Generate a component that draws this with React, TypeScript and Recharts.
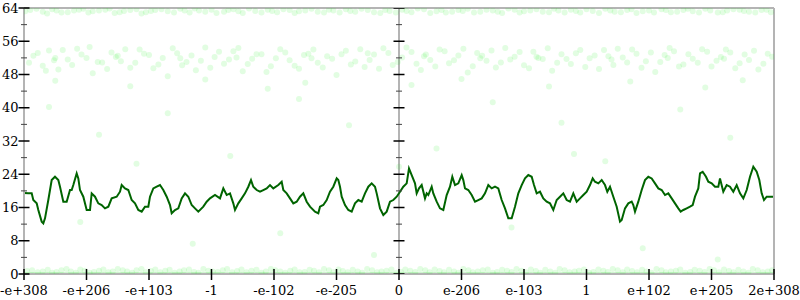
import React from 'react';
import { ComposedChart, Line, Scatter, XAxis, YAxis, ReferenceLine } from 'recharts';

const xTickValues = [0, 1, 2, 3, 4, 5, 6, 7, 8, 9, 10, 11, 12];
const xTickLabels = ['-e+308', '-e+206', '-e+103', '-1', '-e-102', '-e-205', '0', 'e-206', 'e-103', '1', 'e+102', 'e+205', '2e+308'];
const yTickValues = [0, 4, 8, 12, 16, 20, 24, 28, 32, 36, 40, 44, 48, 52, 56, 60, 64];
const midAxisX = 6;

const lineX = [0, 0.069, 0.123, 0.149, 0.203, 0.229, 0.283, 0.309, 0.336, 0.389, 0.443, 0.496, 0.549, 0.576, 0.629, 0.683, 0.736, 0.763, 0.789, 0.843, 0.869, 0.896, 0.949, 1.003, 1.056, 1.083, 1.136, 1.189, 1.243, 1.296, 1.349, 1.403, 1.483, 1.536, 1.563, 1.616, 1.669, 1.723, 1.776, 1.829, 1.883, 1.936, 1.989, 2.016, 2.069, 2.123, 2.176, 2.229, 2.283, 2.336, 2.363, 2.416, 2.469, 2.523, 2.576, 2.629, 2.683, 2.736, 2.789, 2.869, 2.923, 2.976, 3.056, 3.136, 3.189, 3.243, 3.296, 3.349, 3.376, 3.429, 3.483, 3.536, 3.589, 3.632, 3.669, 3.723, 3.776, 3.829, 3.883, 3.936, 3.989, 4.069, 4.123, 4.149, 4.203, 4.256, 4.309, 4.363, 4.416, 4.469, 4.523, 4.576, 4.656, 4.709, 4.736, 4.789, 4.843, 4.896, 4.949, 5.003, 5.029, 5.056, 5.083, 5.136, 5.189, 5.243, 5.296, 5.349, 5.403, 5.456, 5.509, 5.563, 5.616, 5.643, 5.696, 5.749, 5.803, 5.856, 5.909, 5.963, 6.016, 6.069, 6.123, 6.16, 6.203, 6.256, 6.283, 6.32, 6.363, 6.416, 6.443, 6.469, 6.523, 6.549, 6.603, 6.656, 6.709, 6.763, 6.816, 6.853, 6.896, 6.949, 7.003, 7.029, 7.056, 7.109, 7.163, 7.216, 7.269, 7.323, 7.376, 7.429, 7.483, 7.536, 7.589, 7.643, 7.696, 7.749, 7.803, 7.856, 7.909, 7.963, 8.016, 8.069, 8.123, 8.16, 8.203, 8.256, 8.309, 8.363, 8.416, 8.469, 8.523, 8.576, 8.629, 8.683, 8.736, 8.789, 8.843, 8.896, 8.949, 9.003, 9.056, 9.099, 9.136, 9.189, 9.243, 9.296, 9.333, 9.376, 9.429, 9.483, 9.536, 9.563, 9.616, 9.669, 9.723, 9.749, 9.776, 9.829, 9.883, 9.936, 9.989, 10.043, 10.096, 10.149, 10.203, 10.256, 10.309, 10.363, 10.416, 10.469, 10.507, 10.549, 10.603, 10.656, 10.699, 10.736, 10.789, 10.816, 10.859, 10.912, 10.949, 11.003, 11.056, 11.109, 11.136, 11.189, 11.243, 11.296, 11.349, 11.403, 11.456, 11.509, 11.563, 11.616, 11.669, 11.723, 11.765, 11.803, 11.84, 11.883, 11.936, 12];
const lineY = [19.5, 19.4, 19.4, 17.8, 17.0, 15.4, 12.6, 12.2, 13.4, 17.8, 22.6, 23.4, 22.6, 21.0, 17.4, 17.4, 20.2, 20.2, 21.4, 24.2, 23.0, 20.2, 18.6, 15.4, 15.4, 19.4, 18.6, 17.0, 16.6, 15.8, 16.2, 18.2, 18.6, 19.8, 21.4, 20.6, 20.2, 17.8, 17.0, 15.4, 15.0, 16.2, 16.2, 18.6, 20.6, 21.0, 21.4, 20.2, 18.6, 16.6, 14.6, 15.4, 15.8, 18.2, 19.4, 18.6, 16.6, 15.8, 15.0, 16.2, 17.4, 18.2, 19.0, 18.2, 20.6, 19.0, 19.4, 17.0, 15.4, 17.0, 18.2, 19.4, 21.0, 22.6, 21.0, 20.2, 19.8, 20.2, 20.6, 21.4, 20.6, 21.4, 22.2, 20.2, 19.4, 18.2, 17.0, 17.4, 18.6, 19.4, 17.4, 16.2, 15.0, 14.6, 16.2, 16.6, 17.8, 19.8, 21.0, 23.0, 22.6, 21.0, 18.6, 16.6, 15.4, 15.0, 17.0, 17.8, 17.4, 19.4, 21.0, 21.8, 21.0, 19.4, 15.8, 14.2, 15.0, 17.4, 17.8, 18.6, 19.8, 21.0, 21.8, 25.4, 23.8, 21.8, 19.4, 20.6, 21.4, 18.2, 19.4, 19.0, 21.0, 19.4, 17.4, 15.8, 15.4, 19.0, 21.0, 23.4, 21.4, 21.8, 23.8, 22.6, 20.6, 20.2, 19.0, 17.4, 17.8, 18.2, 19.4, 21.4, 20.6, 21.0, 20.6, 17.8, 15.8, 13.4, 13.4, 16.2, 19.4, 21.4, 23.0, 23.8, 23.4, 21.4, 19.4, 19.8, 18.2, 17.4, 17.0, 15.4, 17.8, 18.6, 19.4, 17.8, 17.4, 19.4, 17.4, 18.2, 19.0, 19.8, 21.4, 23.0, 22.2, 21.8, 22.6, 21.4, 19.8, 21.0, 18.6, 16.2, 12.6, 13.0, 15.8, 17.0, 17.4, 16.6, 15.0, 17.4, 20.2, 22.6, 23.4, 23.0, 21.8, 20.6, 20.2, 19.0, 19.4, 18.2, 17.0, 15.8, 15.0, 15.4, 15.8, 16.2, 16.6, 18.6, 20.6, 24.2, 24.6, 23.4, 22.2, 21.8, 21.0, 21.0, 23.0, 19.8, 21.4, 21.0, 19.8, 21.4, 19.4, 18.2, 20.2, 23.4, 25.8, 24.6, 22.6, 19.4, 17.8, 18.6, 18.6, 18.6];

const floorX = [0, 12];
const floorY = [0, 0];

const topBand: number[][] = [[0.1,63.5],[0.3,63.1],[0.45,63.7],[0.6,62.9],[0.8,63.4],[0.95,63.8],[1.1,63.2],[1.3,63.6],[1.45,62.8],[1.6,63.3],[1.8,63.7],[1.95,63.0],[2.1,63.5],[2.3,63.2],[2.5,63.8],[2.65,62.9],[2.8,63.4],[3.0,63.6],[3.2,63.1],[3.35,63.7],[3.5,62.8],[3.7,63.3],[3.9,63.6],[4.05,63.0],[4.25,63.5],[4.4,63.2],[4.6,63.8],[4.8,62.9],[4.95,63.4],[5.15,63.7],[5.3,63.1],[5.5,63.5],[5.7,62.8],[5.85,63.3],[6.05,63.6],[6.2,63.0],[6.4,63.7],[6.6,63.2],[6.75,62.9],[6.95,63.5],[7.1,63.8],[7.3,63.1],[7.5,63.4],[7.65,62.8],[7.85,63.6],[8.0,63.2],[8.2,63.7],[8.4,63.0],[8.55,63.4],[8.75,63.6],[8.9,62.9],[9.1,63.3],[9.3,63.8],[9.45,63.1],[9.65,63.5],[9.8,62.8],[10.0,63.4],[10.2,63.7],[10.35,63.0],[10.55,63.5],[10.7,63.2],[10.9,63.8],[11.1,62.9],[11.25,63.4],[11.45,63.6],[11.6,63.1],[11.8,63.5],[11.95,63.0],
[0.02,63.2],[0.2,63.8],[0.37,62.7],[0.52,63.4],[0.7,63.0],[0.88,63.6],[1.03,62.9],[1.2,63.4],[1.37,63.9],[1.53,63.0],[1.7,63.5],[1.88,62.7],[2.03,63.3],[2.2,63.7],[2.4,62.9],[2.57,63.4],[2.73,63.9],[2.9,63.1],[3.08,62.8],[3.27,63.5],[3.43,63.2],[3.6,63.9],[3.8,62.9],[3.97,63.3],[4.15,63.7],[4.33,62.8],[4.5,63.4],[4.7,63.1],[4.88,63.6],[5.05,62.9],[5.22,63.3],[5.4,63.8],[5.6,63.0],[5.78,63.5],[5.95,62.9],[6.12,63.3],[6.3,63.9],[6.5,62.8],[6.68,63.5],[6.85,63.1],[7.02,63.3],[7.2,62.9],[7.4,63.6],[7.58,63.1],[7.75,63.9],[7.93,62.9],[8.1,63.4],[8.3,63.1],[8.48,63.8],[8.65,62.9],[8.83,63.3],[9.0,63.7],[9.2,62.8],[9.38,63.4],[9.55,63.0],[9.72,63.7],[9.9,63.2],[10.08,62.9],[10.27,63.5],[10.45,63.1],[10.62,63.8],[10.8,62.9],[10.98,63.4],[11.18,63.0],[11.35,63.7],[11.52,63.3],[11.7,62.9],[11.88,63.6]];

const midBand: number[][] = [[0.15,52.5],[0.3,50.1],[0.4,53.8],[0.55,49.2],[0.7,51.6],[0.85,54.2],[1.0,52.0],[1.1,48.3],[1.25,50.9],[1.4,53.3],[1.55,51.2],[1.7,49.6],[1.85,54.0],[2.0,52.7],[2.15,50.4],[2.3,47.6],[2.45,53.1],[2.6,51.0],[2.75,49.0],[2.9,54.5],[3.05,52.2],[3.2,50.6],[3.35,53.6],[3.5,48.8],[3.65,51.8],[3.8,52.9],[3.95,50.0],[4.1,54.1],[4.25,51.4],[4.4,49.4],[4.55,53.0],[4.7,50.8],[4.85,52.4],[5.0,47.9],[5.15,53.7],[5.3,51.1],[5.45,49.8],[5.6,52.8],[5.75,54.3],[5.9,50.3],[6.05,52.1],[6.2,53.4],[6.35,49.1],[6.5,51.5],[6.65,54.0],[6.8,50.7],[6.95,52.6],[7.1,48.5],[7.25,53.2],[7.4,51.3],[7.55,49.7],[7.7,54.4],[7.85,52.3],[8.0,50.2],[8.15,53.5],[8.3,51.7],[8.45,48.9],[8.6,52.9],[8.75,50.5],[8.9,53.9],[9.05,51.9],[9.2,49.3],[9.35,52.4],[9.5,54.2],[9.65,50.9],[9.8,53.0],[9.95,51.2],[10.1,48.6],[10.25,52.7],[10.4,53.6],[10.55,50.4],[10.7,51.8],[10.85,54.1],[11.0,49.9],[11.15,52.2],[11.3,53.3],[11.45,50.7],[11.6,51.5],[11.75,49.2],[11.9,53.0],[0.5,52.0],[1.5,52.5],[2.5,51.9],[3.4,52.1],[4.6,51.9],[5.5,53.1],[6.4,52.4],[7.3,51.9],[8.2,52.3],[9.4,51.6],[10.3,52.0],[11.2,51.8],[0.5,46.5],[1.7,45.2],[2.9,46.8],[3.9,44.6],[4.5,46.0],[6.2,45.5],[7.0,46.9],[8.4,45.1],[9.7,46.3],[10.9,44.9],[11.5,46.6],
[0.08,50.8],[0.22,53.2],[0.35,48.9],[0.48,51.4],[0.62,53.9],[0.77,50.3],[0.92,52.8],[1.05,54.6],[1.18,51.0],[1.33,49.3],[1.47,52.2],[1.62,54.1],[1.78,50.8],[1.92,53.0],[2.07,49.5],[2.22,52.0],[2.38,54.3],[2.53,50.2],[2.68,52.6],[2.83,51.3],[2.98,49.6],[3.12,53.5],[3.28,51.6],[3.43,54.4],[3.58,50.5],[3.72,52.9],[3.88,48.6],[4.03,51.9],[4.18,53.3],[4.33,50.1],[4.48,52.7],[4.63,54.0],[4.78,49.7],[4.93,51.8],[5.08,52.9],[5.23,50.4],[5.38,54.1],[5.53,51.5],[5.68,49.4],[5.83,53.2],[5.98,51.0],[6.12,54.5],[6.28,50.6],[6.43,52.8],[6.58,49.9],[6.73,53.6],[6.88,51.4],[7.03,54.2],[7.18,50.0],[7.33,52.5],[7.48,53.8],[7.63,50.9],[7.78,51.6],[7.93,53.4],[8.08,49.5],[8.23,52.0],[8.38,54.3],[8.53,50.8],[8.68,51.7],[8.83,53.1],[8.98,49.8],[9.13,52.6],[9.28,53.9],[9.43,50.3],[9.58,52.1],[9.73,54.0],[9.88,49.6],[10.03,53.3],[10.18,51.0],[10.33,54.4],[10.48,49.9],[10.63,52.9],[10.78,50.8],[10.93,53.5],[11.08,51.3],[11.23,54.0],[11.38,49.5],[11.53,52.8],[11.68,53.7],[11.83,50.6],[11.97,52.3]];

const sparsePts: number[][] = [[0.4,40.2],[1.2,33.5],[2.3,38.7],[3.3,28.4],[4.4,42.1],[5.2,35.8],[6.6,30.2],[7.5,41.3],[8.6,36.4],[9.3,27.1],[10.5,39.6],[11.3,32.8],[0.9,12.5],[2.7,7.3],[4.1,9.8],[5.6,4.6],[7.8,11.2],[9.9,6.2],[11.1,3.5],[1.8,26.5],[6.0,25.8],[8.8,28.9]];

const bottomBand: number[][] = [[0.05,0.7],[0.22,0.4],[0.38,1.0],[0.52,0.5],[0.68,1.2],[0.83,0.3],[0.97,0.8],[1.12,0.5],[1.27,1.1],[1.42,0.6],[1.58,0.9],[1.73,0.3],[1.88,1.2],[2.03,0.7],[2.18,0.4],[2.33,1.0],[2.49,0.6],[2.64,1.1],[2.79,0.3],[2.95,0.8],[3.1,0.5],[3.25,1.2],[3.41,0.7],[3.56,0.4],[3.72,1.0],[3.87,0.6],[4.02,0.9],[4.18,0.3],[4.33,1.1],[4.49,0.5],[4.64,0.8],[4.8,1.2],[4.95,0.4],[5.1,0.7],[5.26,1.0],[5.41,0.3],[5.57,0.9],[5.72,0.6],[5.88,1.1],[6.03,0.5],[6.18,0.8],[6.34,1.2],[6.49,0.4],[6.65,0.7],[6.8,1.0],[6.95,0.3],[7.11,0.9],[7.26,0.6],[7.42,1.1],[7.57,0.5],[7.73,0.8],[7.88,1.2],[8.03,0.4],[8.19,0.7],[8.34,1.0],[8.5,0.3],[8.65,0.9],[8.81,0.6],[8.96,1.1],[9.11,0.5],[9.27,0.8],[9.42,1.2],[9.58,0.4],[9.73,0.7],[9.89,1.0],[10.04,0.3],[10.2,0.9],[10.35,0.6],[10.5,1.1],[10.66,0.5],[10.81,0.8],[10.97,1.2],[11.12,0.4],[11.28,0.7],[11.43,1.0],[11.59,0.3],[11.74,0.9],[11.9,0.6],
[0.13,0.9],[0.3,0.6],[0.45,0.3],[0.6,0.9],[0.75,0.6],[0.9,1.1],[1.05,0.3],[1.2,0.8],[1.35,0.4],[1.5,1.2],[1.65,0.6],[1.8,0.9],[1.95,0.4],[2.1,1.1],[2.26,0.8],[2.41,0.3],[2.56,0.9],[2.72,0.5],[2.87,1.2],[3.02,0.6],[3.18,0.9],[3.33,0.4],[3.48,1.1],[3.64,0.8],[3.8,0.3],[3.95,1.2],[4.1,0.6],[4.26,0.8],[4.41,0.4],[4.57,1.0],[4.72,0.4],[4.88,0.9],[5.03,1.1],[5.18,0.4],[5.34,0.6],[5.49,1.2],[5.65,0.4],[5.8,0.8],[5.96,0.3],[6.1,1.1],[6.26,0.5],[6.42,0.9],[6.57,1.1],[6.72,0.4],[6.88,0.6],[7.03,1.2],[7.18,0.4],[7.34,0.9],[7.5,0.3],[7.65,1.0],[7.8,0.5],[7.96,0.8],[8.11,1.1],[8.26,0.3],[8.42,0.6],[8.57,1.2],[8.73,0.4],[8.88,0.8],[9.04,0.3],[9.19,1.1],[9.34,0.5],[9.5,0.9],[9.65,1.1],[9.81,0.4],[9.96,0.6],[10.12,1.2],[10.27,0.4],[10.43,0.8],[10.58,0.3],[10.73,1.0],[10.89,0.5],[11.04,0.9],[11.2,1.1],[11.35,0.4],[11.51,0.6],[11.66,1.2],[11.82,0.4],[11.97,0.9]];

const FONT = 'DejaVu Serif';

const lineData = lineX.map((x, i) => ({ x, y: lineY[i] }));
const floorData = floorX.map((x, i) => ({ x, y: floorY[i] }));
const dotData = [...topBand, ...midBand, ...sparsePts, ...bottomBand].map(([x, y]) => ({ x, y }));
const midTickData = yTickValues.map((v) => ({ x: midAxisX, y: v }));

function tickMark(x: number, y: number, major: boolean) {
  return (
    <line
      x1={major ? x - 5.5 : x - 3}
      x2={major ? x + 5.5 : x + 3}
      y1={y}
      y2={y}
      stroke={major ? '#000' : '#444'}
      strokeWidth={major ? 1.5 : 1}
    />
  );
}

function LeftTick(props: any) {
  const { x, y, payload } = props;
  const v = payload.value;
  const major = v % 8 === 0;
  return (
    <g>
      {tickMark(x, y, major)}
      {major && (
        <text x={x - 5.5} y={y} dy={4.6} textAnchor="end" fontFamily={FONT} fontSize={13} fill="#000">
          {v}
        </text>
      )}
    </g>
  );
}

function RightTick(props: any) {
  const { x, y, payload } = props;
  const major = payload.value % 8 === 0;
  return <g>{tickMark(x, y, major)}</g>;
}

function BottomTick(props: any) {
  const { x, y, payload } = props;
  const label = xTickLabels[xTickValues.indexOf(payload.value)];
  return (
    <g>
      <line x1={x} x2={x} y1={y - 5} y2={y + 6} stroke="#000" strokeWidth={1.5} />
      <text x={x} y={y + 21} textAnchor="middle" fontFamily={FONT} fontSize={13} fill="#000">
        {label}
      </text>
    </g>
  );
}

const Dot = (props: any) => (
  <circle cx={props.cx} cy={props.cy} r={3} fill="#22ee22" fillOpacity={0.13} />
);

const MidTick = (props: any) => {
  const major = props.payload.y % 8 === 0;
  return tickMark(props.cx, props.cy, major);
};

export default function App() {
  return (
    <div style={{ position: 'absolute', left: 0, top: 0, background: '#fff' }}>
      <ComposedChart width={800} height={300} margin={{ top: 8, right: 0, bottom: 0, left: 0 }}>
        <XAxis
          type="number"
          dataKey="x"
          domain={[0, 12]}
          ticks={xTickValues}
          interval={0}
          height={26}
          tickSize={0}
          tickMargin={0}
          tick={<BottomTick />}
          axisLine={{ stroke: '#b4b4b4', strokeWidth: 2 }}
          allowDataOverflow
        />
        <YAxis
          yAxisId="l"
          type="number"
          dataKey="y"
          domain={[0, 64]}
          ticks={yTickValues}
          interval={0}
          width={24}
          tickSize={0}
          tickMargin={0}
          tick={<LeftTick />}
          axisLine={{ stroke: '#b4b4b4', strokeWidth: 2 }}
          allowDataOverflow
        />
        <YAxis
          yAxisId="r"
          orientation="right"
          type="number"
          domain={[0, 64]}
          ticks={yTickValues}
          interval={0}
          width={26}
          tickSize={0}
          tickMargin={0}
          tick={<RightTick />}
          axisLine={{ stroke: '#b4b4b4', strokeWidth: 2 }}
        />
        <ReferenceLine yAxisId="l" y={64} stroke="#b4b4b4" strokeWidth={2} />
        <ReferenceLine yAxisId="l" x={midAxisX} stroke="#b4b4b4" strokeWidth={2} />
        <Scatter yAxisId="l" data={dotData} shape={<Dot />} isAnimationActive={false} />
        <Line
          yAxisId="l"
          data={floorData}
          dataKey="y"
          stroke="#44d044"
          strokeWidth={2.5}
          dot={false}
          isAnimationActive={false}
        />
        <Line
          yAxisId="l"
          data={lineData}
          dataKey="y"
          stroke="#006400"
          strokeWidth={2}
          dot={false}
          isAnimationActive={false}
        />
        <Scatter yAxisId="l" data={midTickData} shape={<MidTick />} isAnimationActive={false} />
      </ComposedChart>
    </div>
  );
}
